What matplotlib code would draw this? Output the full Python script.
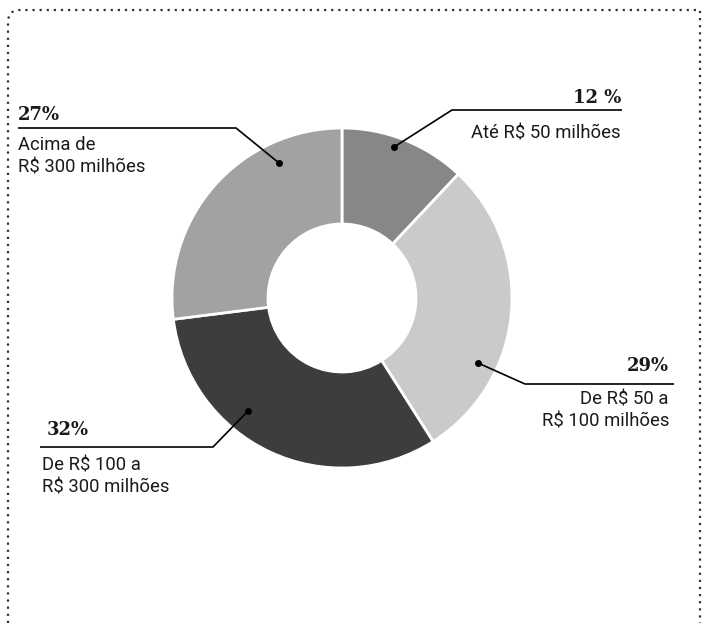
import matplotlib
matplotlib.use("Agg")
import matplotlib.pyplot as plt
from matplotlib.path import Path
from matplotlib.patches import PathPatch

# ---- data ----
categories = [["Até R$ 50 milhões"], ["De R$ 50 a", "R$ 100 milhões"],
              ["De R$ 100 a", "R$ 300 milhões"], ["Acima de", "R$ 300 milhões"]]
values = [12, 29, 32, 27]
pct_labels = ["12 %", "29%", "32%", "27%"]
colors = ["#878787", "#c9cac9", "#3c3d3c", "#a1a2a1"]

W, H = 708, 623
fig = plt.figure(figsize=(W / 100, H / 100), dpi=100)
ax = fig.add_axes([0, 0, 1, 1])
ax.axis("off")

def Y(y):
    return H - y

cx, cy, R = 342, 298, 170
ax.pie(values, colors=colors, startangle=90, counterclock=False,
       center=(cx, Y(cy)), radius=R,
       wedgeprops=dict(width=96, edgecolor="white", linewidth=2))
ax.set_xlim(0, W)
ax.set_ylim(0, H)
ax.set_aspect("auto")
ax.axis("off")

sans = ["Roboto", "DejaVu Sans"]
serif = ["DejaVu Serif"]
lab_fs = 13.3
pct_fs = 13
LS = 22

specs = [
    dict(dot=(394, 147), elbow=(452, 110), end=(622, 110), ha="right",
         pct=(621, 103), lab=(621, 138)),
    dict(dot=(478, 363), elbow=(525, 384), end=(674, 384), ha="right",
         pct=(669, 371), lab=(669, 405)),
    dict(dot=(248, 411), elbow=(213, 447), end=(40, 447), ha="left",
         pct=(47, 435), lab=(42, 471)),
    dict(dot=(279, 163), elbow=(236, 128), end=(18, 128), ha="left",
         pct=(18, 120), lab=(18, 150)),
]

for i, s in enumerate(specs):
    xs = [s["dot"][0], s["elbow"][0], s["end"][0]]
    ys = [Y(s["dot"][1]), Y(s["elbow"][1]), Y(s["end"][1])]
    ax.plot(xs, ys, color="black", lw=1.2, solid_capstyle="butt")
    ax.plot([s["dot"][0]], [Y(s["dot"][1])], "o", color="black", ms=4)
    ax.text(s["pct"][0], Y(s["pct"][1]), pct_labels[i], ha=s["ha"], va="baseline",
            fontsize=pct_fs, fontweight="bold", family=serif, color="#1a1a1a")
    for j, line in enumerate(categories[i]):
        ax.text(s["lab"][0], Y(s["lab"][1] + j * LS), line, ha=s["ha"], va="baseline",
                fontsize=lab_fs, family=sans, color="#1a1a1a")

# dotted border (top, left, right) with rounded top-left corner
r = 12
verts = [(8, Y(623)), (8, Y(10 + r)), (8, Y(10)), (8 + r, Y(10)), (700, Y(10)), (700, Y(623))]
codes = [Path.MOVETO, Path.LINETO, Path.CURVE3, Path.CURVE3, Path.LINETO, Path.LINETO]
ax.add_patch(PathPatch(Path(verts, codes), fill=False, edgecolor="#333333",
                       lw=1.6, linestyle=(0, (1, 2.2))))

fig.savefig("out.png", dpi=100)
